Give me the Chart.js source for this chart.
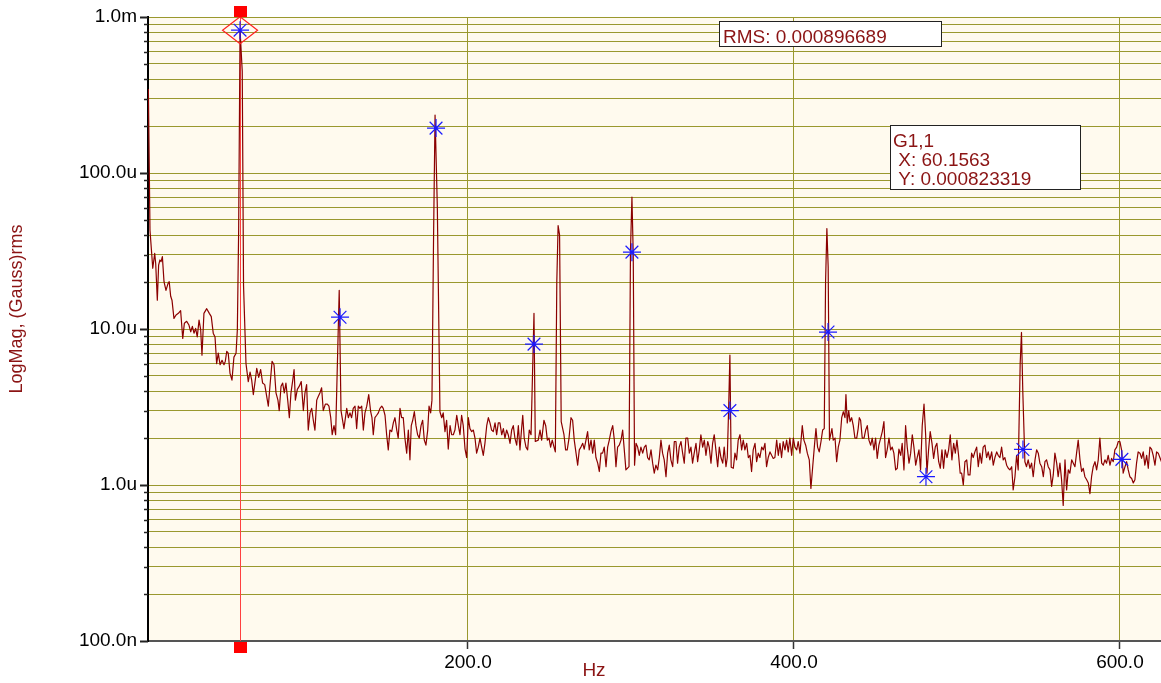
<!DOCTYPE html>
<html>
<head>
<meta charset="utf-8">
<script src="https://cdn.jsdelivr.net/npm/chart.js@4.4.1/dist/chart.umd.min.js"></script>
<style>
  html, body { margin: 0; padding: 0; background: #fff; }
  #wrap { width: 1161px; height: 683px; position: relative; }
</style>
</head>
<body>
<div id="wrap"><canvas id="spectrum"></canvas></div>
<script>
// spectrum trace: frequency (Hz) and magnitude (micro Gauss rms)
var freqHz = [
  3.9, 4.9, 6.6, 7.8, 8.4, 9.4, 10.2, 11.0, 11.7, 12.5,
  13.5, 14.7, 16.0, 16.7, 17.6, 18.4, 19.6, 20.9, 22.3, 23.7,
  25.0, 26.0, 27.4, 28.8, 29.9, 30.9, 31.9, 32.9, 33.9, 35.0,
  36.0, 36.8, 38.0, 39.7, 41.3, 42.5, 43.7, 44.8, 45.8, 46.8,
  47.9, 49.1, 50.3, 51.1, 52.0, 52.9, 54.0, 55.2, 56.4, 57.7,
  58.5, 59.3, 60.16, 61.5, 62.3, 63.8, 65.2, 66.3, 67.3, 68.3,
  69.5, 70.4, 71.6, 72.8, 74.0, 75.3, 76.5, 77.5, 78.5, 79.8,
  81.0, 82.2, 83.4, 84.2, 85.3, 86.3, 87.3, 88.3, 89.4, 90.4,
  91.4, 92.5, 93.3, 94.1, 95.3, 96.5, 97.7, 99.0, 100.0, 101.0,
  102.0, 103.1, 104.1, 105.1, 106.1, 107.2, 108.2, 109.2, 110.2, 111.2,
  112.5, 113.7, 114.7, 115.8, 116.7, 117.8, 118.8, 121.0, 122.1, 123.9,
  125.6, 126.6, 127.6, 128.6, 129.6, 130.7, 131.7, 132.7, 133.7, 134.8,
  135.8, 136.8, 137.9, 139.1, 140.3, 141.1, 141.9, 142.9, 144.0, 145.0,
  146.0, 147.1, 148.0, 149.1, 150.1, 151.1, 152.1, 153.2, 154.2, 155.2,
  156.3, 157.2, 158.3, 159.3, 160.3, 161.3, 162.4, 163.4, 164.4, 165.2,
  166.1, 167.1, 168.1, 169.1, 170.1, 171.2, 172.2, 173.2, 174.2, 175.3,
  176.1, 177.1, 177.9, 178.9, 179.8, 181.2, 182.8, 183.9, 184.8, 185.9,
  186.9, 187.9, 189.0, 190.0, 191.0, 192.0, 193.1, 194.1, 195.1, 196.1,
  197.1, 198.2, 199.2, 200.2, 201.2, 202.3, 203.3, 204.3, 205.3, 206.3,
  207.4, 208.4, 209.4, 210.4, 211.5, 212.5, 213.5, 214.5, 215.5, 216.6,
  217.6, 218.6, 219.6, 220.7, 221.7, 222.7, 223.7, 224.7, 225.8, 226.8,
  227.8, 228.8, 229.9, 230.9, 231.9, 232.9, 233.6, 234.5, 235.6, 236.6,
  237.6, 238.7, 240.5, 241.3, 243.1, 244.2, 245.2, 246.6, 247.7, 248.7,
  249.7, 250.7, 251.7, 252.8, 253.6, 254.5, 255.3, 256.2, 257.2, 258.9,
  259.9, 260.9, 262.0, 263.2, 264.2, 265.2, 266.3, 267.3, 268.3, 269.3,
  270.4, 271.3, 272.4, 273.4, 274.4, 275.5, 276.5, 277.5, 278.5, 279.6,
  280.6, 281.6, 282.6, 283.6, 284.7, 285.7, 286.7, 287.7, 288.8, 289.8,
  290.8, 291.8, 292.8, 293.9, 294.9, 295.9, 296.9, 298.8, 299.7, 300.6,
  301.4, 302.2, 303.1, 304.1, 305.1, 306.1, 307.2, 308.2, 309.2, 310.2,
  311.2, 312.3, 313.3, 314.3, 315.3, 316.4, 317.4, 318.4, 319.4, 320.4,
  321.5, 322.5, 323.5, 324.5, 325.6, 326.6, 327.6, 328.6, 329.6, 330.7,
  331.7, 332.7, 333.7, 334.8, 335.8, 336.8, 337.8, 338.8, 339.9, 340.9,
  341.9, 342.9, 344.0, 345.0, 346.0, 347.1, 348.0, 349.1, 350.1, 351.1,
  352.1, 353.2, 354.2, 355.2, 356.3, 357.2, 358.3, 359.1, 359.9, 360.7,
  361.5, 362.8, 363.8, 364.8, 365.8, 366.9, 367.9, 368.9, 369.9, 371.0,
  372.0, 373.0, 374.0, 375.0, 376.1, 377.1, 378.1, 379.1, 380.2, 381.2,
  382.2, 383.2, 384.2, 385.3, 386.3, 387.3, 388.3, 389.4, 390.4, 391.4,
  392.4, 393.4, 394.5, 395.5, 396.5, 397.5, 398.6, 399.6, 400.6, 401.7,
  402.6, 403.7, 405.1, 406.1, 407.2, 408.2, 409.4, 410.4, 411.5, 412.5,
  413.5, 414.5, 415.5, 416.6, 417.6, 418.6, 419.4, 420.2, 421.0, 421.8,
  423.3, 424.1, 425.2, 426.2, 427.2, 428.2, 429.3, 430.3, 431.3, 431.9,
  432.7, 433.6, 434.4, 435.4, 436.4, 437.4, 438.5, 439.4, 440.1, 440.9,
  441.9, 443.0, 444.0, 445.0, 446.0, 447.1, 448.0, 449.1, 450.1, 451.1,
  452.1, 453.2, 454.2, 455.2, 456.2, 457.2, 458.3, 459.3, 460.3, 461.3,
  462.4, 463.4, 464.4, 465.5, 466.4, 467.5, 468.5, 469.5, 470.6, 471.6,
  472.6, 473.6, 474.7, 475.6, 476.7, 477.7, 478.7, 479.8, 480.8, 481.6,
  482.6, 483.6, 484.7, 485.7, 486.7, 487.7, 488.8, 489.8, 490.8, 491.8,
  492.8, 493.9, 494.9, 495.9, 496.9, 498.0, 499.0, 500.0, 501.0, 502.0,
  502.9, 503.9, 504.9, 506.0, 506.9, 508.0, 509.0, 510.0, 511.0, 512.1,
  513.1, 514.1, 515.1, 516.1, 517.2, 518.2, 519.2, 520.2, 521.3, 522.3,
  523.3, 524.4, 525.3, 526.4, 527.4, 528.4, 529.4, 530.5, 531.5, 532.5,
  533.6, 534.5, 535.6, 536.6, 537.6, 538.8, 539.6, 540.4, 541.7, 542.7,
  543.7, 544.8, 545.8, 546.8, 547.9, 548.9, 549.9, 550.9, 552.0, 553.0,
  554.0, 555.0, 556.0, 557.1, 558.1, 559.1, 560.1, 561.2, 562.1, 563.2,
  564.2, 565.2, 566.3, 567.3, 568.3, 569.3, 570.4, 571.4, 572.4, 573.4,
  574.4, 575.5, 576.5, 577.5, 578.5, 579.6, 580.6, 581.6, 582.6, 583.6,
  584.7, 585.7, 586.7, 587.7, 588.8, 589.8, 590.8, 591.8, 592.8, 593.9,
  594.9, 595.9, 596.9, 598.0, 599.0, 600.0, 601.0, 602.0, 603.1, 604.1,
  605.1, 606.1, 607.2, 608.2, 609.2, 610.2, 611.2, 612.3, 613.3, 614.3,
  615.3, 616.4, 617.4, 618.4, 619.4, 620.4, 621.5, 622.5, 623.5, 624.5, 625.6
];
var magMicro = [
  345, 43, 24.5, 30.5, 26.3, 15.3, 25.7, 27.7, 27, 29.1,
  20.1, 17.7, 19.6, 20.1, 16.2, 15.3, 11.7, 12.3, 12.6, 13.1,
  8.7, 10.9, 11.2, 10.6, 9.6, 10.4, 9.4, 10.1, 8.9, 11.4,
  9.9, 6.8, 12.6, 13.5, 12.6, 12.0, 9.4, 8.9, 6.0, 7.0,
  5.9, 6.3, 5.9, 6.2, 7.2, 7.0, 5.2, 4.7, 6.6, 7.0,
  9.9, 43, 823.3, 450, 18.9, 6.0, 4.6, 5.3, 4.7, 3.8,
  4.7, 5.6, 4.9, 5.5, 4.5, 4.4, 3.7, 3.2, 4.3, 6.2,
  5.9, 3.9, 3.5, 3.0, 4.3, 4.5, 3.9, 4.5, 3.5, 2.7,
  3.9, 4.7, 5.5, 3.5, 4.1, 4.3, 4.6, 3.0, 3.9, 4.4,
  2.25, 2.9, 3.1, 2.6, 2.25, 3.5, 3.7, 3.9, 4.2, 3.0,
  3.3, 3.3, 3.2, 2.7, 2.1, 2.4, 2.1, 17.7, 3.0, 2.3,
  3.1, 2.7, 2.9, 2.7, 3.1, 3.2, 2.3, 3.2, 3.1, 3.2,
  2.25, 2.9, 3.2, 3.8, 2.95, 2.7, 2.1, 2.7, 2.8, 2.9,
  3.1, 3.2, 3.1, 2.8, 2.1, 1.68, 2.25, 2.2, 2.5, 2.7,
  2.25, 2.0, 3.1, 2.7, 2.7, 2.0, 1.6, 2.25, 1.45, 2.4,
  2.6, 2.95, 2.4, 2.1, 2.0, 2.4, 2.6, 1.94, 1.8, 2.25,
  3.2, 2.9, 3.5, 40, 235, 60, 2.95, 2.7, 2.9, 2.2,
  2.6, 1.7, 2.4, 2.1, 2.1, 2.25, 2.8, 2.4, 2.1, 2.8,
  2.4, 1.7, 1.5, 2.7, 2.3, 2.2, 2.25, 2.0, 1.6, 1.75,
  2.0, 1.75, 1.55, 1.85, 2.4, 2.7, 2.5, 2.25, 2.2, 2.5,
  2.1, 2.5, 2.5, 2.1, 2.3, 2.0, 2.25, 2.1, 1.85, 2.25,
  2.4, 2.0, 1.8, 2.4, 1.68, 2.3, 2.8, 2.0, 1.75, 1.68,
  2.25, 2.1, 12.6, 1.9, 1.94, 2.25, 1.94, 2.6, 2.4, 1.94,
  2.0, 1.75, 1.94, 1.75, 1.63, 20, 46, 40, 2.55, 2.1,
  1.68, 1.68, 2.0, 2.7, 2.6, 1.94, 1.6, 1.34, 1.68, 1.75,
  1.85, 1.7, 1.94, 2.2, 1.68, 1.94, 1.6, 1.94, 1.5, 1.38,
  1.22, 1.6, 1.6, 1.75, 1.31, 1.75, 1.94, 2.2, 2.4, 1.94,
  1.31, 1.75, 1.8, 1.94, 2.25, 1.68, 1.25, 1.31, 32, 70,
  30, 1.34, 1.85, 1.75, 1.55, 1.75, 1.6, 1.75, 1.8, 1.5,
  1.45, 1.68, 1.38, 1.19, 1.34, 1.25, 1.5, 1.94, 1.6, 1.45,
  1.13, 1.6, 1.8, 1.45, 1.31, 1.9, 1.9, 1.38, 1.75, 1.9,
  1.6, 1.38, 2.0, 2.0, 1.6, 1.75, 1.38, 1.6, 1.85, 1.41,
  1.68, 2.1, 1.75, 1.94, 1.55, 1.9, 1.75, 1.38, 1.85, 2.1,
  1.68, 1.31, 1.75, 1.5, 1.38, 1.75, 1.31, 1.5, 3.0, 6.8,
  1.3, 1.28, 1.6, 1.45, 1.94, 2.1, 1.68, 1.94, 1.68, 1.85,
  1.5, 1.55, 1.22, 1.68, 1.85, 1.41, 1.6, 1.5, 1.75, 1.68,
  1.85, 1.31, 1.5, 1.63, 1.55, 1.48, 1.5, 1.94, 1.55, 1.85,
  1.5, 1.9, 1.68, 1.94, 1.63, 2.0, 1.55, 2.0, 1.75, 1.68,
  1.9, 1.6, 2.4, 1.94, 1.8, 1.6, 1.45, 0.95, 1.31, 1.75,
  2.3, 1.75, 1.63, 1.9, 2.25, 2.3, 20, 44, 25, 1.94,
  2.3, 1.94, 2.0, 1.41, 1.75, 1.94, 2.7, 2.95, 2.7, 3.8,
  2.5, 3.0, 2.55, 2.7, 2.4, 2.0, 2.0, 2.3, 2.7, 2.6,
  2.0, 2.0, 2.25, 2.4, 1.94, 1.8, 2.0, 1.68, 2.0, 1.48,
  1.8, 2.0, 2.2, 2.55, 1.5, 1.68, 2.0, 1.68, 1.75, 1.6,
  1.25, 1.28, 1.7, 1.55, 1.85, 1.25, 2.4, 1.75, 1.38, 1.6,
  2.1, 1.75, 1.34, 1.5, 1.68, 1.25, 2.4, 3.3, 2.1, 1.19,
  1.68, 2.2, 1.85, 1.48, 1.75, 1.85, 1.41, 1.28, 1.68, 1.28,
  1.68, 1.5, 1.68, 2.1, 1.45, 1.85, 1.6, 1.94, 1.55, 1.19,
  1.19, 1.0, 1.41, 1.45, 1.16, 1.16, 1.6, 1.5, 1.63, 1.75,
  1.31, 1.6, 1.38, 1.75, 1.8, 1.5, 1.63, 1.45, 1.63, 1.34,
  1.5, 1.63, 1.55, 1.5, 1.75, 1.45, 1.5, 1.34, 1.28, 1.25,
  1.31, 0.93, 1.13, 1.55, 1.25, 6.0, 9.5, 4.0, 1.41, 1.31,
  1.45, 1.28, 1.38, 1.13, 1.45, 1.68, 1.6, 1.38, 1.31, 1.13,
  1.41, 1.45, 1.31, 1.25, 0.98, 1.16, 1.6, 1.38, 1.13, 1.38,
  1.08, 0.74, 1.45, 0.93, 1.25, 1.19, 1.45, 1.38, 1.31, 1.6,
  1.94, 1.45, 1.22, 1.28, 1.13, 1.08, 1.03, 0.88, 1.13, 1.31,
  1.41, 1.25, 1.45, 2.0, 1.38, 1.34, 1.45, 1.38, 1.55, 1.34,
  1.48, 1.41, 1.68, 1.75, 1.9, 1.9, 1.68, 1.19, 1.31, 1.41,
  1.25, 1.13, 1.1, 1.03, 1.08, 1.38, 1.63, 1.6, 1.48, 1.63,
  1.34, 1.55, 1.28, 1.75, 1.7, 1.55, 1.34, 1.63, 1.6, 1.5, 1.4
];

// harmonic markers (blue asterisks)
var harmHz = [60.16, 121.5, 180.4, 240.5, 300.6, 360.7, 420.9, 481.0, 540.5, 601.2];
var harmMicro = [823.3, 11.9, 194, 8.0, 31.1, 3.0, 9.56, 1.13, 1.69, 1.46];

// cursor readout
var cursorHz = 60.1563;
var cursorMag = 0.000823319;
var rmsText = 'RMS: 0.000896689';
var cursorLines = ['G1,1', ' X: 60.1563', ' Y: 0.000823319'];

// axes
var xTicks = [200, 400, 600];
var yDecades = [1e-7, 1e-6, 1e-5, 1e-4, 1e-3];
var yDecadeLabels = ['100.0n', '1.0u', '10.0u', '100.0u', '1.0m'];

var FONT = 'Arial, "Liberation Sans", sans-serif';
var DARKRED = '#8b0000';
var TEXTRED = '#8b1414';
var OLIVE = '#9a982e';

var yTickValues = [];
yDecades.forEach(function(d, i) {
  if (i === yDecades.length - 1) { yTickValues.push(d); return; }
  for (var k = 1; k <= 9; k++) yTickValues.push(k * d);
});

function decadeIndex(v) {
  for (var i = 0; i < yDecades.length; i++) {
    if (Math.abs(Math.log10(v / yDecades[i])) < 1e-6) return i;
  }
  return -1;
}

var decor = {
  id: 'decor',
  beforeDraw: function(chart) {
    var a = chart.chartArea, ctx = chart.ctx;
    ctx.save();
    ctx.fillStyle = '#fffaee';
    ctx.fillRect(a.left, a.top, a.right - a.left, a.bottom - a.top);
    ctx.restore();
  },
  beforeDatasetsDraw: function(chart) {
    var a = chart.chartArea, ctx = chart.ctx;
    var cx = Math.round(chart.scales.x.getPixelForValue(cursorHz)) + 0.5;
    ctx.save();
    ctx.strokeStyle = '#ff4040';
    ctx.lineWidth = 1;
    ctx.beginPath();
    ctx.moveTo(cx, a.top);
    ctx.lineTo(cx, a.bottom);
    ctx.stroke();
    ctx.restore();
  },
  afterDatasetsDraw: function(chart) {
    var ctx = chart.ctx;
    var cx = chart.scales.x.getPixelForValue(cursorHz);
    var cy = chart.scales.y.getPixelForValue(cursorMag);
    ctx.save();
    ctx.strokeStyle = '#ff2020';
    ctx.lineWidth = 1.2;
    ctx.beginPath();
    ctx.moveTo(cx, cy - 13.5);
    ctx.lineTo(cx + 17.5, cy);
    ctx.lineTo(cx, cy + 13.5);
    ctx.lineTo(cx - 17.5, cy);
    ctx.closePath();
    ctx.stroke();
    ctx.restore();
  },
  afterDraw: function(chart) {
    var a = chart.chartArea, ctx = chart.ctx, ys = chart.scales.y;
    var cx = Math.round(chart.scales.x.getPixelForValue(cursorHz));
    ctx.save();

    // cursor handles
    ctx.fillStyle = '#ff0000';
    ctx.fillRect(cx - 6, a.top - 11, 13, 11);
    ctx.fillRect(cx - 6, a.bottom + 1, 13, 11);

    // y tick marks, long on decades
    ys.ticks.forEach(function(t) {
      var p = Math.round(ys.getPixelForValue(t.value)) + 0.5;
      var major = decadeIndex(t.value) >= 0;
      var len = major ? 8 : 4;
      ctx.strokeStyle = '#222';
      ctx.lineWidth = major ? 2 : 1.5;
      ctx.beginPath();
      ctx.moveTo(a.left - len, p);
      ctx.lineTo(a.left, p);
      ctx.stroke();
    });

    // RMS box
    ctx.font = '19px ' + FONT;
    ctx.textBaseline = 'alphabetic';
    ctx.textAlign = 'left';
    ctx.fillStyle = '#ffffff';
    ctx.fillRect(719.5, 21.5, 222, 25);
    ctx.strokeStyle = '#222';
    ctx.lineWidth = 1;
    ctx.strokeRect(719.5, 21.5, 222, 25);
    ctx.fillStyle = TEXTRED;
    ctx.fillText(rmsText, 723, 42.5);

    // cursor readout box
    ctx.fillStyle = '#ffffff';
    ctx.fillRect(890.5, 125.5, 190, 64);
    ctx.strokeRect(890.5, 125.5, 190, 64);
    ctx.fillStyle = TEXTRED;
    cursorLines.forEach(function(s, i) {
      ctx.fillText(s, 893, 147 + i * 19);
    });

    // axis titles
    ctx.textAlign = 'center';
    ctx.fillText('Hz', 594, 676);
    ctx.translate(17, 309);
    ctx.rotate(-Math.PI / 2);
    ctx.font = '18px ' + FONT;
    ctx.textBaseline = 'middle';
    ctx.fillText('LogMag, (Gauss)rms', 0, 0);
    ctx.restore();
  }
};

new Chart(document.getElementById('spectrum'), {
  type: 'line',
  data: {
    datasets: [{
      label: 'Harmonics',
      data: harmHz.map(function(f, i) { return { x: f, y: harmMicro[i] * 1e-6 }; }),
      showLine: false,
      pointStyle: 'star',
      pointRadius: 9,
      pointBorderColor: '#1a1aff',
      pointBackgroundColor: 'rgba(0,0,0,0)',
      pointBorderWidth: 1.2
    }, {
      label: 'G1,1',
      data: freqHz.map(function(f, i) { return { x: f, y: magMicro[i] * 1e-6 }; }),
      borderColor: DARKRED,
      borderWidth: 1.2,
      borderJoinStyle: 'round',
      pointRadius: 0,
      tension: 0,
      fill: false
    }]
  },
  options: {
    responsive: true,
    maintainAspectRatio: false,
    animation: false,
    layout: { autoPadding: false, padding: { top: 17, left: 0, right: 0, bottom: 0 } },
    plugins: { legend: { display: false }, tooltip: { enabled: false } },
    scales: {
      x: {
        type: 'linear',
        min: 3.68,
        max: 625.2,
        afterBuildTicks: function(s) { s.ticks = xTicks.map(function(v) { return { value: v }; }); },
        afterFit: function(s) { s.height = 42; },
        grid: { color: OLIVE, lineWidth: 1, drawTicks: true, tickLength: 8, tickColor: '#333', tickWidth: 1.5 },
        border: { color: '#555', width: 2 },
        ticks: {
          autoSkip: false, maxRotation: 0, padding: 2, color: '#000',
          font: { family: FONT, size: 19 },
          callback: function(v) { return v.toFixed(1); }
        }
      },
      y: {
        type: 'logarithmic',
        min: 1e-7,
        max: 1e-3,
        afterBuildTicks: function(s) { s.ticks = yTickValues.map(function(v) { return { value: v }; }); },
        afterFit: function(s) { s.width = 148; },
        grid: { color: OLIVE, lineWidth: 1, drawTicks: true, tickLength: 6, tickColor: 'rgba(0,0,0,0)' },
        border: { color: '#000', width: 2 },
        ticks: {
          autoSkip: false, padding: 5, color: '#000',
          font: { family: FONT, size: 19 },
          callback: function(v) { var i = decadeIndex(v); return i >= 0 ? yDecadeLabels[i] : ''; }
        }
      }
    }
  },
  plugins: [decor]
});
</script>
</body>
</html>
